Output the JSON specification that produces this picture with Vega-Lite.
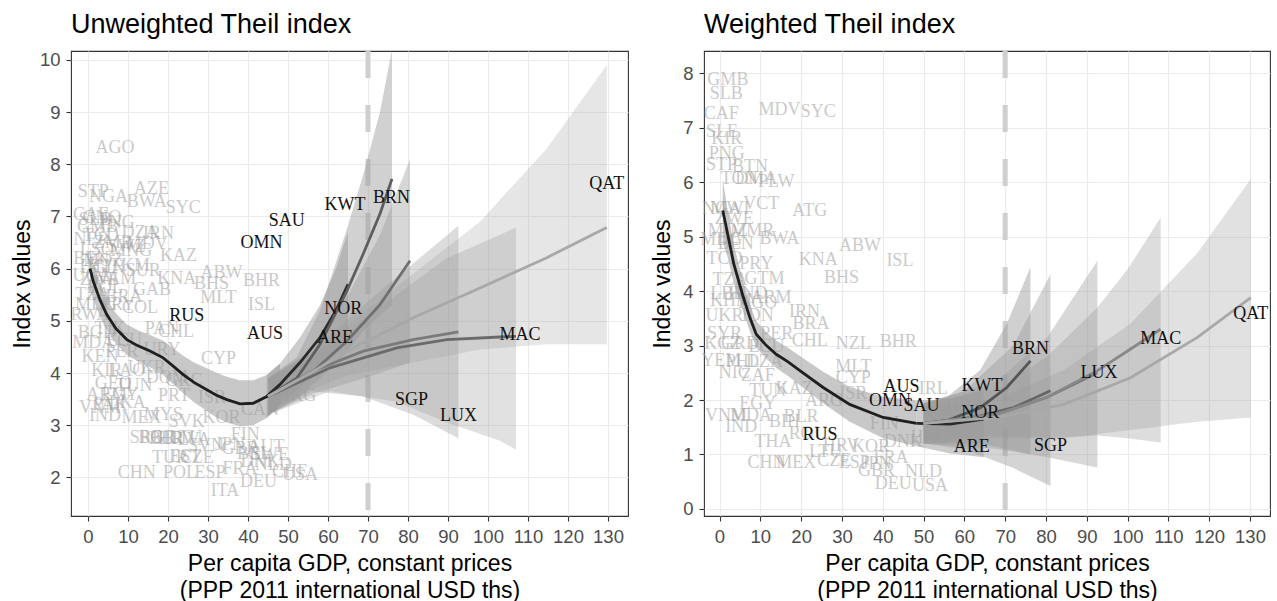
{
"$schema":"https://vega.github.io/schema/vega-lite/v6.json",
"padding":{"left":10,"top":10,"right":0,"bottom":0},
"bounds":"flush",
"spacing":76,
"datasets":{
"gL":[
{"lab":"STP","x":1.3,"y":7.46},{"lab":"NGA","x":5.1,"y":7.37},{"lab":"AZE","x":15.9,"y":7.53},{"lab":"BWA","x":14.7,"y":7.27},{"lab":"SYC","x":23.8,"y":7.17},{"lab":"AGO","x":6.75,"y":8.32},
{"lab":"CAF","x":0.6,"y":7.02},{"lab":"SLB","x":1.8,"y":6.93},{"lab":"GNQ","x":3.5,"y":6.97},{"lab":"PNG","x":7.2,"y":6.88},{"lab":"GMB","x":2.4,"y":6.8},{"lab":"DZA","x":13,"y":6.69},{"lab":"IRN","x":17.6,"y":6.66},{"lab":"MDV","x":14.7,"y":6.47},{"lab":"KAZ","x":22.6,"y":6.24},
{"lab":"NER","x":0.9,"y":6.55},{"lab":"TCD","x":3.2,"y":6.62},{"lab":"ZMB","x":6.3,"y":6.5},{"lab":"SWZ","x":9.6,"y":6.42},{"lab":"MNG","x":10.8,"y":6.33},{"lab":"LSO","x":2.2,"y":6.35},{"lab":"BEN","x":0.8,"y":6.18},{"lab":"MOZ","x":3.8,"y":6.15},{"lab":"HTI","x":1.6,"y":6.04},{"lab":"GIN","x":5.2,"y":6.02},{"lab":"SUR","x":13.8,"y":5.96},{"lab":"TKM","x":10.5,"y":6.05},
{"lab":"ABW","x":33.4,"y":5.92},{"lab":"KNA","x":22.2,"y":5.8},{"lab":"BHS","x":30.9,"y":5.71},{"lab":"BHR","x":43.4,"y":5.76},{"lab":"MLT","x":32.6,"y":5.44},{"lab":"ISL","x":43.4,"y":5.3},
{"lab":"UGA","x":1.0,"y":5.85},{"lab":"ZWE","x":2.8,"y":5.78},{"lab":"NAM","x":6.8,"y":5.8},{"lab":"BOL","x":4.2,"y":5.62},{"lab":"TZA","x":1.2,"y":5.5},{"lab":"COL","x":13.0,"y":5.25},{"lab":"BRA","x":9.0,"y":5.45},{"lab":"GAB","x":16.0,"y":5.6},{"lab":"RWA","x":0.5,"y":5.12},{"lab":"PRY","x":7.5,"y":5.3},{"lab":"MDG","x":2.0,"y":5.3},
{"lab":"CHL","x":22.0,"y":4.78},{"lab":"PAN","x":18.5,"y":4.85},{"lab":"BGD","x":2.2,"y":4.77},{"lab":"TJK","x":5.5,"y":4.85},{"lab":"MDA","x":1.3,"y":4.58},{"lab":"ECU","x":9.0,"y":4.62},{"lab":"URY","x":18.5,"y":4.45},{"lab":"KEN","x":3.0,"y":4.3},{"lab":"PER","x":8.5,"y":4.4},{"lab":"KIR","x":4.7,"y":4.03},{"lab":"LAO","x":9.7,"y":4.03},{"lab":"UKR","x":14.7,"y":4.1},{"lab":"DOM","x":19.7,"y":3.9},{"lab":"TUN","x":11.5,"y":3.75},{"lab":"GEO","x":6.3,"y":3.78},{"lab":"ARM","x":4.7,"y":3.58},{"lab":"EGY","x":8.0,"y":3.58},{"lab":"PAK","x":5.5,"y":3.39},{"lab":"LKA","x":9.8,"y":3.42},{"lab":"VNM","x":3.0,"y":3.33},{"lab":"IND","x":4.25,"y":3.17},
{"lab":"MEX","x":13.4,"y":3.13},{"lab":"MYS","x":18.8,"y":3.2},{"lab":"SVK","x":24.7,"y":3.07},{"lab":"KOR","x":33.4,"y":3.13},{"lab":"CAN","x":43.0,"y":3.3},{"lab":"HKG","x":52.2,"y":3.55},{"lab":"CYP","x":32.6,"y":4.26},{"lab":"ISR","x":31.0,"y":3.52},{"lab":"GRC","x":24.0,"y":3.84},{"lab":"PRT","x":21.5,"y":3.55},
{"lab":"SRB","x":14.7,"y":2.75},{"lab":"BGR","x":17.2,"y":2.76},{"lab":"BLR","x":19.6,"y":2.74},{"lab":"HRV","x":22.0,"y":2.73},{"lab":"LTU","x":24.4,"y":2.75},{"lab":"LVA","x":26.5,"y":2.72},{"lab":"SVN","x":29.5,"y":2.6},{"lab":"FIN","x":39.3,"y":2.82},{"lab":"JPN","x":35.5,"y":2.62},{"lab":"GBR","x":38.0,"y":2.55},{"lab":"AUT","x":44.5,"y":2.58},{"lab":"BEL","x":41.5,"y":2.45},{"lab":"SWE","x":45.5,"y":2.43},{"lab":"DNK","x":43.0,"y":2.3},{"lab":"NLD","x":46.3,"y":2.24},
{"lab":"TUR","x":20.5,"y":2.37},{"lab":"CZE","x":27.2,"y":2.37},{"lab":"EST","x":24.3,"y":2.4},{"lab":"CHN","x":12.2,"y":2.08},{"lab":"POL","x":23.0,"y":2.08},{"lab":"ESP","x":30.5,"y":2.08},{"lab":"FRA","x":38.0,"y":2.17},{"lab":"CHE","x":50.5,"y":2.1},{"lab":"USA","x":53.0,"y":2.05},{"lab":"DEU","x":42.6,"y":1.92},{"lab":"ITA","x":34.25,"y":1.73}
],
"bL":[
{"lab":"SAU","x":49.7,"y":6.92},{"lab":"OMN","x":43.4,"y":6.5},{"lab":"KWT","x":64.25,"y":7.22},{"lab":"BRN","x":75.9,"y":7.35},{"lab":"NOR","x":63.8,"y":5.22},{"lab":"ARE","x":61.75,"y":4.67},{"lab":"MAC","x":108,"y":4.72},{"lab":"SGP","x":80.9,"y":3.49},{"lab":"LUX","x":92.6,"y":3.17},{"lab":"QAT","x":129.7,"y":7.62},{"lab":"RUS","x":24.7,"y":5.09},{"lab":"AUS","x":44.25,"y":4.74}
],
"cL":[
{"s":"M","x":0.5,"y":6.0,"lo":5.6,"hi":6.4},{"s":"M","x":1.3,"y":5.76,"lo":5.42,"hi":6.1},{"s":"M","x":3,"y":5.4,"lo":5.08,"hi":5.72},{"s":"M","x":4.7,"y":5.12,"lo":4.82,"hi":5.42},{"s":"M","x":7,"y":4.85,"lo":4.56,"hi":5.14},{"s":"M","x":9.7,"y":4.64,"lo":4.35,"hi":4.93},{"s":"M","x":12.5,"y":4.52,"lo":4.22,"hi":4.82},{"s":"M","x":15.5,"y":4.42,"lo":4.11,"hi":4.73},{"s":"M","x":18.8,"y":4.29,"lo":3.96,"hi":4.62},{"s":"M","x":21,"y":4.15,"lo":3.81,"hi":4.49},{"s":"M","x":23.8,"y":3.97,"lo":3.61,"hi":4.33},{"s":"M","x":26.5,"y":3.82,"lo":3.44,"hi":4.2},{"s":"M","x":29.7,"y":3.68,"lo":3.27,"hi":4.09},{"s":"M","x":32,"y":3.58,"lo":3.15,"hi":4.01},{"s":"M","x":34.7,"y":3.49,"lo":3.05,"hi":3.93},{"s":"M","x":38,"y":3.41,"lo":2.98,"hi":3.86},{"s":"M","x":41.3,"y":3.42,"lo":3.0,"hi":3.86},{"s":"M","x":44.7,"y":3.55,"lo":3.14,"hi":3.96},{"s":"M","x":48,"y":3.78,"lo":3.38,"hi":4.18},
{"s":"M2","x":44.7,"y":3.55,"lo":3.14,"hi":3.96},{"s":"M2","x":48,"y":3.78,"lo":3.38,"hi":4.18},{"s":"M2","x":53,"y":4.2,"lo":3.72,"hi":4.68},{"s":"M2","x":58,"y":4.68,"lo":4.05,"hi":5.3},{"s":"M2","x":62,"y":5.2,"lo":4.4,"hi":6.0},{"s":"M2","x":65,"y":5.7,"lo":4.7,"hi":6.7},
{"s":"B1","x":45,"y":3.55,"lo":3.2,"hi":3.9},{"s":"B1","x":52.2,"y":3.9,"lo":3.5,"hi":4.3},{"s":"B1","x":58,"y":4.55,"lo":3.9,"hi":5.2},{"s":"B1","x":64.7,"y":5.57,"lo":4.4,"hi":6.75},{"s":"B1","x":68.8,"y":6.28,"lo":4.8,"hi":7.8},{"s":"B1","x":73,"y":7.05,"lo":5.1,"hi":9.0},{"s":"B1","x":76,"y":7.72,"lo":5.3,"hi":10.2},
{"s":"B2","x":45,"y":3.55,"lo":3.2,"hi":3.9},{"s":"B2","x":56.3,"y":4.03,"lo":3.6,"hi":4.45},{"s":"B2","x":64.7,"y":4.61,"lo":3.8,"hi":5.45},{"s":"B2","x":73,"y":5.31,"lo":4.0,"hi":6.65},{"s":"B2","x":80.5,"y":6.15,"lo":4.2,"hi":8.1},
{"s":"B3","x":45,"y":3.55,"lo":3.2,"hi":3.9},{"s":"B3","x":56,"y":4.03,"lo":3.65,"hi":4.4},{"s":"B3","x":68.8,"y":4.42,"lo":3.55,"hi":5.3},{"s":"B3","x":81.3,"y":4.64,"lo":3.2,"hi":6.1},{"s":"B3","x":92.6,"y":4.79,"lo":2.75,"hi":6.82},
{"s":"B4","x":45,"y":3.55,"lo":3.2,"hi":3.9},{"s":"B4","x":60.5,"y":4.1,"lo":3.65,"hi":4.55},{"s":"B4","x":77.2,"y":4.48,"lo":3.45,"hi":5.5},{"s":"B4","x":89.7,"y":4.64,"lo":3.05,"hi":6.2},{"s":"B4","x":103,"y":4.69,"lo":2.7,"hi":6.65},{"s":"B4","x":107,"y":4.7,"lo":2.53,"hi":6.79},
{"s":"B5","x":45,"y":3.55,"lo":3.25,"hi":3.85},{"s":"B5","x":56.3,"y":4.03,"lo":3.7,"hi":4.35},{"s":"B5","x":64.7,"y":4.42,"lo":3.95,"hi":4.9},{"s":"B5","x":81.3,"y":5.06,"lo":4.2,"hi":5.9},{"s":"B5","x":98,"y":5.63,"lo":4.45,"hi":6.9},{"s":"B5","x":114.7,"y":6.21,"lo":4.55,"hi":8.3},{"s":"B5","x":129.7,"y":6.79,"lo":4.55,"hi":9.9}
],
"gR":[
{"lab":"GMB","x":2.05,"y":7.88},{"lab":"SLB","x":1.65,"y":7.62},{"lab":"CAF","x":0.4,"y":7.26},{"lab":"MDV","x":14.7,"y":7.32},{"lab":"SYC","x":24.2,"y":7.29},{"lab":"SLE","x":0.6,"y":6.92},{"lab":"KIR","x":1.8,"y":6.8},{"lab":"PNG","x":1.8,"y":6.52},{"lab":"STP","x":0.5,"y":6.31},{"lab":"BTN","x":7.5,"y":6.28},{"lab":"TON","x":4.8,"y":6.06},{"lab":"DMA","x":9.0,"y":6.06},{"lab":"PLW","x":13.9,"y":6.0},
{"lab":"VCT","x":10.2,"y":5.6},{"lab":"ATG","x":22.1,"y":5.48},{"lab":"NGA","x":0.5,"y":5.5},{"lab":"MWI","x":2.6,"y":5.5},{"lab":"ZWE","x":3.6,"y":5.33},{"lab":"MOZ","x":2.0,"y":5.11},{"lab":"MMR","x":8.0,"y":5.1},{"lab":"BWA","x":14.7,"y":4.96},{"lab":"MDG","x":0.4,"y":4.93},{"lab":"BEN","x":4.0,"y":4.86},{"lab":"ABW","x":34.4,"y":4.83},{"lab":"KNA","x":24.2,"y":4.57},{"lab":"ISL","x":44.2,"y":4.55},{"lab":"BHS","x":29.9,"y":4.25},
{"lab":"TCD","x":1.2,"y":4.59},{"lab":"PRY","x":9.0,"y":4.5},{"lab":"GTM","x":11.0,"y":4.22},{"lab":"TZA","x":2.6,"y":4.2},{"lab":"LBR","x":2.0,"y":3.95},{"lab":"HND","x":7.0,"y":3.95},{"lab":"KHM","x":2.8,"y":3.82},{"lab":"AGO","x":9.4,"y":3.79},{"lab":"ARM","x":12.6,"y":3.88},{"lab":"UKR","x":1.2,"y":3.55},{"lab":"IDN","x":9.4,"y":3.55},{"lab":"IRN","x":20.8,"y":3.62},{"lab":"BRA","x":22.4,"y":3.4},
{"lab":"SYR","x":1.2,"y":3.21},{"lab":"PER","x":14.0,"y":3.21},{"lab":"KGZ","x":0.8,"y":3.03},{"lab":"GRD","x":5.0,"y":3.03},{"lab":"ECU","x":11.5,"y":2.97},{"lab":"CHL","x":22.1,"y":3.09},{"lab":"NZL","x":32.8,"y":3.03},{"lab":"BHR","x":43.8,"y":3.06},{"lab":"YEM","x":0.4,"y":2.72},{"lab":"PHL","x":5.7,"y":2.7},{"lab":"DZA","x":11.0,"y":2.7},{"lab":"NIC","x":3.6,"y":2.5},{"lab":"ZAF","x":9.4,"y":2.44},{"lab":"MLT","x":32.8,"y":2.6},{"lab":"CYP","x":32.8,"y":2.4},
{"lab":"TUN","x":11.8,"y":2.17},{"lab":"KAZ","x":18.3,"y":2.2},{"lab":"ARG","x":25.6,"y":1.99},{"lab":"ISR","x":32.8,"y":2.11},{"lab":"IRL","x":52.4,"y":2.2},{"lab":"CHE","x":57.0,"y":1.89},{"lab":"EGY","x":9.4,"y":1.92},{"lab":"MDA","x":7.7,"y":1.71},{"lab":"VNM","x":1.6,"y":1.71},{"lab":"BIH","x":15.9,"y":1.6},{"lab":"BLR","x":20.0,"y":1.68},{"lab":"IND","x":5.3,"y":1.5},{"lab":"FIN","x":40.4,"y":1.56},
{"lab":"ROU","x":21.6,"y":1.37},{"lab":"THA","x":13.1,"y":1.22},{"lab":"HRV","x":29.8,"y":1.16},{"lab":"KOR","x":37.1,"y":1.13},{"lab":"DNK","x":45.0,"y":1.22},{"lab":"HKG","x":51.6,"y":1.31},{"lab":"LTU","x":26.0,"y":1.05},{"lab":"CHN","x":11.5,"y":0.85},{"lab":"MEX","x":18.8,"y":0.85},{"lab":"CZE","x":28.1,"y":0.88},{"lab":"ESP","x":33.0,"y":0.85},{"lab":"FRA","x":42.0,"y":0.94},{"lab":"JPN","x":38.5,"y":0.82},{"lab":"GBR","x":38.5,"y":0.7},{"lab":"NLD","x":50.0,"y":0.67},{"lab":"DEU","x":42.6,"y":0.45},{"lab":"USA","x":51.6,"y":0.42}
],
"bR":[
{"lab":"BRN","x":76.2,"y":2.94},{"lab":"KWT","x":64.3,"y":2.26},{"lab":"NOR","x":63.9,"y":1.77},{"lab":"ARE","x":61.8,"y":1.13},{"lab":"SGP","x":81.1,"y":1.16},{"lab":"LUX","x":93.0,"y":2.49},{"lab":"MAC","x":108.1,"y":3.12},{"lab":"QAT","x":130.2,"y":3.58},{"lab":"AUS","x":44.6,"y":2.23},{"lab":"OMN","x":41.8,"y":1.99},{"lab":"SAU","x":49.5,"y":1.89},{"lab":"RUS","x":24.6,"y":1.36}
],
"cR":[
{"s":"M","x":0.8,"y":5.48,"lo":4.9,"hi":6.05},{"s":"M","x":2,"y":5.05,"lo":4.62,"hi":5.48},{"s":"M","x":3.5,"y":4.5,"lo":4.15,"hi":4.85},{"s":"M","x":5.7,"y":3.92,"lo":3.64,"hi":4.2},{"s":"M","x":7.5,"y":3.5,"lo":3.25,"hi":3.75},{"s":"M","x":9,"y":3.21,"lo":2.97,"hi":3.45},{"s":"M","x":11.5,"y":3.0,"lo":2.76,"hi":3.24},{"s":"M","x":13.9,"y":2.84,"lo":2.59,"hi":3.09},{"s":"M","x":16.8,"y":2.7,"lo":2.44,"hi":2.96},{"s":"M","x":19.7,"y":2.54,"lo":2.27,"hi":2.81},{"s":"M","x":25.4,"y":2.23,"lo":1.94,"hi":2.52},{"s":"M","x":31.9,"y":1.92,"lo":1.6,"hi":2.24},{"s":"M","x":40.1,"y":1.68,"lo":1.3,"hi":2.06},{"s":"M","x":48.3,"y":1.57,"lo":1.15,"hi":1.99},
{"s":"M2","x":48.3,"y":1.57,"lo":1.15,"hi":1.99},{"s":"M2","x":56.5,"y":1.56,"lo":1.02,"hi":2.02},{"s":"M2","x":64.7,"y":1.65,"lo":0.95,"hi":2.2},
{"s":"B1","x":50,"y":1.57,"lo":1.2,"hi":1.94},{"s":"B1","x":55.7,"y":1.62,"lo":1.2,"hi":2.05},{"s":"B1","x":63.9,"y":1.86,"lo":1.2,"hi":2.55},{"s":"B1","x":70.4,"y":2.23,"lo":1.1,"hi":3.4},{"s":"B1","x":76.2,"y":2.72,"lo":1.0,"hi":4.44},
{"s":"B2","x":50,"y":1.57,"lo":1.2,"hi":1.94},{"s":"B2","x":59.8,"y":1.63,"lo":1.1,"hi":2.15},{"s":"B2","x":72,"y":1.86,"lo":0.75,"hi":3.0},{"s":"B2","x":81.1,"y":2.17,"lo":0.42,"hi":4.31},
{"s":"B3","x":50,"y":1.57,"lo":1.2,"hi":1.94},{"s":"B3","x":68,"y":1.74,"lo":1.1,"hi":2.35},{"s":"B3","x":80.3,"y":2.05,"lo":0.95,"hi":3.15},{"s":"B3","x":92.6,"y":2.5,"lo":0.76,"hi":4.56},
{"s":"B4","x":50,"y":1.57,"lo":1.2,"hi":1.94},{"s":"B4","x":68,"y":1.74,"lo":1.3,"hi":2.2},{"s":"B4","x":80.3,"y":2.05,"lo":1.3,"hi":2.8},{"s":"B4","x":92.6,"y":2.54,"lo":1.35,"hi":3.7},{"s":"B4","x":100,"y":2.9,"lo":1.3,"hi":4.4},{"s":"B4","x":108.1,"y":3.3,"lo":1.22,"hi":5.35},
{"s":"B5","x":50,"y":1.57,"lo":1.25,"hi":1.89},{"s":"B5","x":68,"y":1.68,"lo":1.35,"hi":2.02},{"s":"B5","x":84.4,"y":1.92,"lo":1.3,"hi":2.55},{"s":"B5","x":100.7,"y":2.41,"lo":1.45,"hi":3.4},{"s":"B5","x":117.1,"y":3.15,"lo":1.6,"hi":4.7},{"s":"B5","x":130.2,"y":3.88,"lo":1.68,"hi":6.06}
]
},
"hconcat":[
{
"width":557,"height":465,
"title":{"text":"Unweighted Theil index","anchor":"start","frame":"group","offset":9.5},
"layer":[
{"data":{"name":"gL"},"mark":{"type":"text","font":"Liberation Serif","fontSize":18,"color":"#a0a0a0","opacity":0.55,"baseline":"middle","align":"center"},
"encoding":{
"x":{"field":"x","type":"quantitative","scale":{"domain":[-4.25,135],"nice":false,"zero":false},
"axis":{"values":[0,5,10,15,20,25,30,35,40,45,50,55,60,65,70,75,80,85,90,95,100,105,110,115,120,125,130],"labelExpr":"abs(datum.value/10 - round(datum.value/10)) < 0.01 ? '' + round(datum.value) : ''","tickOpacity":{"condition":{"test":"abs(datum.value/10 - round(datum.value/10)) < 0.01","value":1},"value":0},"gridWidth":{"condition":{"test":"abs(datum.value/10 - round(datum.value/10)) < 0.01","value":1.2},"value":0.6},"title":["Per capita GDP, constant prices","(PPP 2011 international USD ths)"],"titlePadding":7,"titleLineHeight":27}},
"y":{"field":"y","type":"quantitative","scale":{"domain":[1.26,10.17],"nice":false,"zero":false},
"axis":{"values":[2,2.5,3,3.5,4,4.5,5,5.5,6,6.5,7,7.5,8,8.5,9,9.5,10],"labelExpr":"abs(datum.value - round(datum.value)) < 0.01 ? '' + round(datum.value) : ''","tickOpacity":{"condition":{"test":"abs(datum.value - round(datum.value)) < 0.01","value":1},"value":0},"gridWidth":{"condition":{"test":"abs(datum.value - round(datum.value)) < 0.01","value":1.2},"value":0.6},"title":"Index values","titlePadding":8,"minExtent":29,"maxExtent":29}},
"text":{"field":"lab","type":"nominal"}}},
{"data":{"values":[{"v":70}]},"mark":{"type":"rule","color":"#cfcfcf","strokeWidth":5,"strokeDash":[27,27]},
"encoding":{"x":{"field":"v","type":"quantitative","scale":{"domain":[-4.25,135],"nice":false,"zero":false}}}},
{"data":{"name":"cL"},"mark":{"type":"area","clip":true,"color":"#9a9a9a"},
"encoding":{"x":{"field":"x","type":"quantitative","scale":{"domain":[-4.25,135],"nice":false,"zero":false}},
"y":{"field":"lo","type":"quantitative","scale":{"domain":[1.26,10.17],"nice":false,"zero":false}},
"y2":{"field":"hi"},"detail":{"field":"s","type":"nominal"},
"opacity":{"field":"s","type":"nominal","scale":{"domain":["M","M2","B1","B2","B3","B4","B5"],"range":[0.55,0.25,0.16,0.16,0.16,0.16,0.16]},"legend":null}}},
{"data":{"name":"cL"},"mark":{"type":"line","clip":true,"strokeWidth":2.8},
"encoding":{"x":{"field":"x","type":"quantitative","scale":{"domain":[-4.25,135],"nice":false,"zero":false}},
"y":{"field":"y","type":"quantitative","scale":{"domain":[1.26,10.17],"nice":false,"zero":false}},
"color":{"field":"s","type":"nominal","scale":{"domain":["M","M2","B1","B2","B3","B4","B5"],"range":["#1f1f1f","#2a2a2a","#5e5e5e","#707070","#7a7a7a","#6a6a6a","#a8a8a8"]},"legend":null}}},
{"data":{"name":"bL"},"mark":{"type":"text","font":"Liberation Serif","fontSize":18,"color":"#111111","baseline":"middle","align":"center"},
"encoding":{"x":{"field":"x","type":"quantitative","scale":{"domain":[-4.25,135],"nice":false,"zero":false}},
"y":{"field":"y","type":"quantitative","scale":{"domain":[1.26,10.17],"nice":false,"zero":false}},
"text":{"field":"lab","type":"nominal"}}}
]
},
{
"width":566,"height":465,
"title":{"text":"Weighted Theil index","anchor":"start","frame":"group","offset":9.5},
"layer":[
{"data":{"name":"gR"},"mark":{"type":"text","font":"Liberation Serif","fontSize":18,"color":"#a0a0a0","opacity":0.55,"baseline":"middle","align":"center"},
"encoding":{
"x":{"field":"x","type":"quantitative","scale":{"domain":[-3.8,134.9],"nice":false,"zero":false},
"axis":{"values":[0,5,10,15,20,25,30,35,40,45,50,55,60,65,70,75,80,85,90,95,100,105,110,115,120,125,130],"labelExpr":"abs(datum.value/10 - round(datum.value/10)) < 0.01 ? '' + round(datum.value) : ''","tickOpacity":{"condition":{"test":"abs(datum.value/10 - round(datum.value/10)) < 0.01","value":1},"value":0},"gridWidth":{"condition":{"test":"abs(datum.value/10 - round(datum.value/10)) < 0.01","value":1.2},"value":0.6},"title":["Per capita GDP, constant prices","(PPP 2011 international USD ths)"],"titlePadding":7,"titleLineHeight":27}},
"y":{"field":"y","type":"quantitative","scale":{"domain":[-0.13,8.41],"nice":false,"zero":false},
"axis":{"values":[0,0.5,1,1.5,2,2.5,3,3.5,4,4.5,5,5.5,6,6.5,7,7.5,8],"labelExpr":"abs(datum.value - round(datum.value)) < 0.01 ? '' + round(datum.value) : ''","tickOpacity":{"condition":{"test":"abs(datum.value - round(datum.value)) < 0.01","value":1},"value":0},"gridWidth":{"condition":{"test":"abs(datum.value - round(datum.value)) < 0.01","value":1.2},"value":0.6},"title":"Index values","titlePadding":8,"minExtent":21.5,"maxExtent":21.5}},
"text":{"field":"lab","type":"nominal"}}},
{"data":{"values":[{"v":70}]},"mark":{"type":"rule","color":"#cfcfcf","strokeWidth":5,"strokeDash":[27,27]},
"encoding":{"x":{"field":"v","type":"quantitative","scale":{"domain":[-3.8,134.9],"nice":false,"zero":false}}}},
{"data":{"name":"cR"},"mark":{"type":"area","clip":true,"color":"#9a9a9a"},
"encoding":{"x":{"field":"x","type":"quantitative","scale":{"domain":[-3.8,134.9],"nice":false,"zero":false}},
"y":{"field":"lo","type":"quantitative","scale":{"domain":[-0.13,8.41],"nice":false,"zero":false}},
"y2":{"field":"hi"},"detail":{"field":"s","type":"nominal"},
"opacity":{"field":"s","type":"nominal","scale":{"domain":["M","M2","B1","B2","B3","B4","B5"],"range":[0.55,0.3,0.16,0.16,0.16,0.16,0.16]},"legend":null}}},
{"data":{"name":"cR"},"mark":{"type":"line","clip":true,"strokeWidth":2.8},
"encoding":{"x":{"field":"x","type":"quantitative","scale":{"domain":[-3.8,134.9],"nice":false,"zero":false}},
"y":{"field":"y","type":"quantitative","scale":{"domain":[-0.13,8.41],"nice":false,"zero":false}},
"color":{"field":"s","type":"nominal","scale":{"domain":["M","M2","B1","B2","B3","B4","B5"],"range":["#1f1f1f","#2a2a2a","#555555","#666666","#777777","#888888","#a8a8a8"]},"legend":null}}},
{"data":{"name":"bR"},"mark":{"type":"text","font":"Liberation Serif","fontSize":18,"color":"#111111","baseline":"middle","align":"center"},
"encoding":{"x":{"field":"x","type":"quantitative","scale":{"domain":[-3.8,134.9],"nice":false,"zero":false}},
"y":{"field":"y","type":"quantitative","scale":{"domain":[-0.13,8.41],"nice":false,"zero":false}},
"text":{"field":"lab","type":"nominal"}}}
]
}
],
"resolve":{"scale":{"x":"independent","y":"independent","color":"independent","opacity":"independent"}},
"config":{
"view":{"stroke":"#333333","strokeWidth":1.1},
"axis":{"domain":false,"grid":true,"gridColor":"#ebebeb","tickColor":"#333333","tickSize":5,"tickWidth":1.1,"labelFont":"Liberation Sans","labelFontSize":18.5,"labelColor":"#4d4d4d","titleFont":"Liberation Sans","titleFontSize":23,"titleFontWeight":"normal","titleColor":"#000000","labelOverlap":false},
"axisX":{"labelFlush":false,"labelPadding":6},
"axisY":{"labelPadding":6},
"title":{"font":"Liberation Sans","fontSize":27,"fontWeight":"normal","color":"#000000"}
}
}
